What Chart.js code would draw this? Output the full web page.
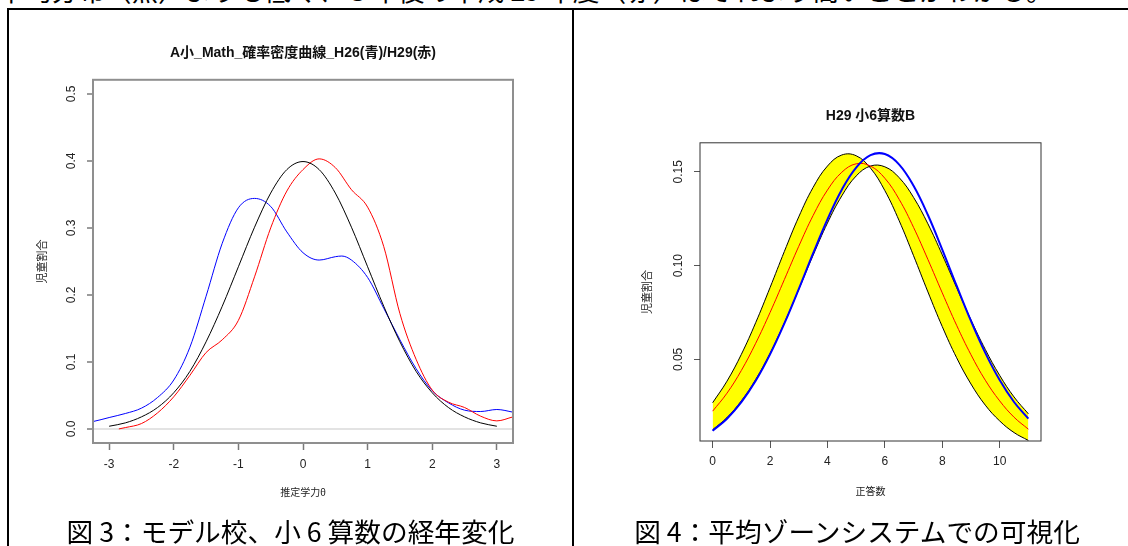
<!DOCTYPE html>
<html lang="ja">
<head>
<meta charset="utf-8">
<script src="https://cdn.jsdelivr.net/npm/chart.js@4.4.1/dist/chart.umd.min.js"></script>
<style>
  html, body { margin: 0; padding: 0; background: #fff; }
  body { width: 1128px; height: 546px; position: relative; overflow: hidden; font-family: "Noto Sans CJK JP", sans-serif; color: #000; }
  .lead { position: absolute; left: -2px; top: -26px; font-size: 26.7px; line-height: 32px; white-space: nowrap; }
  .rule-top { position: absolute; left: 7px; top: 8px; width: 1121px; height: 2px; background: #000; }
  .rule-v { position: absolute; top: 8px; width: 2px; height: 538px; background: #000; }
  .cap { position: absolute; top: 513px; font-size: 26.7px; line-height: 36px; text-align: center; white-space: nowrap; }
  #wrapL { position: absolute; left: 0; top: 0; }
  #wrapR { position: absolute; left: 574px; top: 0; }
</style>
</head>
<body>
<div class="lead">平均分布（黒）よりも低く、３年後の平成 29 年度（赤）はそれより高いことがわかる。</div>
<div class="rule-top"></div>
<div class="rule-v" style="left:7px"></div>
<div class="rule-v" style="left:572px"></div>
<div id="wrapL"><canvas id="leftChart" width="570" height="515"></canvas></div>
<div id="wrapR"><canvas id="rightChart" width="554" height="515"></canvas></div>
<div class="cap" style="left:9px;width:563px">図 3：モデル校、小 6 算数の経年変化</div>
<div class="cap" style="left:574px;width:566px">図 4：平均ゾーンシステムでの可視化</div>

<script>
// ---- left chart: density curves (theta vs share of pupils) ----
const leftXTicks = [-3, -2, -1, 0, 1, 2, 3];
const leftXLabels = ['-3', '-2', '-1', '0', '1', '2', '3'];
const leftYTicks = [0, 0.1, 0.2, 0.3, 0.4, 0.5];
const leftYLabels = ['0.0', '0.1', '0.2', '0.3', '0.4', '0.5'];

// black: reference curve
const blackTheta = [-3, -2.75, -2.5, -2.25, -2, -1.75, -1.5, -1.25, -1, -0.75, -0.5, -0.25, 0,
  0.25, 0.5, 0.75, 1, 1.25, 1.5, 1.75, 2, 2.25, 2.5, 2.75, 3];
const blackDensity = [0.004, 0.009, 0.018, 0.032, 0.054, 0.086, 0.130, 0.183, 0.242, 0.301, 0.352, 0.387, 0.399,
  0.387, 0.352, 0.301, 0.242, 0.183, 0.130, 0.086, 0.054, 0.032, 0.018, 0.009, 0.004];

// blue: H26
const blueTheta = [-3.5, -3.25, -3, -2.75, -2.5, -2.25, -2, -1.75, -1.5, -1.25, -1, -0.75, -0.5, -0.25, 0,
  0.25, 0.5, 0.6, 0.75, 1, 1.25, 1.5, 1.75, 2, 2.25, 2.5, 2.75, 3, 3.25, 3.5];
const blueDensity = [0.007, 0.011, 0.017, 0.023, 0.031, 0.047, 0.073, 0.122, 0.198, 0.277, 0.330, 0.344, 0.332, 0.294, 0.263,
  0.252, 0.257, 0.258, 0.252, 0.226, 0.180, 0.133, 0.090, 0.057, 0.039, 0.028, 0.026, 0.029, 0.025, 0.020];

// red: H29
const redTheta = [-2.85, -2.75, -2.5, -2.25, -2, -1.75, -1.5, -1.25, -1, -0.75, -0.5, -0.25, 0,
  0.25, 0.5, 0.75, 1, 1.25, 1.5, 1.75, 2, 2.25, 2.5, 2.75, 3, 3.25, 3.5];
const redDensity = [0.000, 0.002, 0.008, 0.024, 0.048, 0.080, 0.114, 0.133, 0.162, 0.227, 0.300, 0.355, 0.387,
  0.403, 0.390, 0.357, 0.331, 0.272, 0.172, 0.104, 0.058, 0.040, 0.032, 0.019, 0.012, 0.018, 0.024];

// ---- right chart: average zone (number correct vs share of pupils) ----
const rightXTicks = [0, 2, 4, 6, 8, 10];
const rightXLabels = ['0', '2', '4', '6', '8', '10'];
const rightYTicks = [0.05, 0.10, 0.15];
const rightYLabels = ['0.05', '0.10', '0.15'];

const scores = [0, 0.5, 1, 1.5, 2, 2.5, 3, 3.5, 4, 4.5, 5, 5.5, 6, 6.5, 7, 7.5, 8, 8.5, 9, 9.5, 10, 10.5, 11];
// zone edge shifted left
const zoneLow = [0.0269, 0.0384, 0.0527, 0.0696, 0.0883, 0.1076, 0.1260, 0.1417, 0.1531, 0.1590, 0.1586, 0.1520,
  0.1400, 0.1239, 0.1053, 0.0860, 0.0675, 0.0509, 0.0369, 0.0256, 0.0172, 0.0110, 0.0068];
// zone edge shifted right
const zoneHigh = [0.0125, 0.0190, 0.0279, 0.0393, 0.0533, 0.0695, 0.0873, 0.1055, 0.1227, 0.1372, 0.1478, 0.1531,
  0.1527, 0.1469, 0.1364, 0.1223, 0.1058, 0.0883, 0.0711, 0.0553, 0.0415, 0.0300, 0.0210];
// zone average (red)
const zoneMean = [0.0224, 0.0320, 0.0441, 0.0586, 0.0750, 0.0926, 0.1103, 0.1267, 0.1403, 0.1498, 0.1543, 0.1531,
  0.1466, 0.1353, 0.1204, 0.1033, 0.0855, 0.0682, 0.0525, 0.0389, 0.0279, 0.0192, 0.0128];
// school result (blue)
const school = [0.0120, 0.0184, 0.0272, 0.0386, 0.0527, 0.0692, 0.0875, 0.1065, 0.1247, 0.1405, 0.1523, 0.1589,
  0.1595, 0.1539, 0.1426, 0.1270, 0.1086, 0.0893, 0.0705, 0.0535, 0.0390, 0.0273, 0.0184];

const FONT = '"Liberation Sans", Arial, "Noto Sans CJK JP", sans-serif';
const pts = (xs, ys) => xs.map((x, i) => ({ x: x, y: ys[i] }));

// box around the plot region, like R's box()
const framePlugin = {
    id: 'frame',
    afterDatasetsDraw(chart, args, opts) {
        const { left, top, width, height } = chart.chartArea;
        const ctx = chart.ctx;
        ctx.save();
        ctx.strokeStyle = opts.color;
        ctx.lineWidth = opts.width;
        ctx.strokeRect(left, top, width, height);
        ctx.restore();
    }
};

// R draws the y tick labels turned 90 degrees
const rotatedYTicks = {
    id: 'rotatedYTicks',
    afterDraw(chart, args, opts) {
        const scale = chart.scales.y;
        const ctx = chart.ctx;
        ctx.save();
        ctx.font = opts.font;
        ctx.fillStyle = opts.color;
        ctx.textAlign = 'center';
        ctx.textBaseline = 'middle';
        scale.ticks.forEach((t, i) => {
            ctx.save();
            ctx.translate(chart.chartArea.left - opts.offset, scale.getPixelForValue(t.value));
            ctx.rotate(-Math.PI / 2);
            ctx.fillText(opts.labels[i], 0, 0);
            ctx.restore();
        });
        ctx.restore();
    }
};

function lineSet(data, color, width, extra) {
    return Object.assign({
        data: data,
        borderColor: color,
        borderWidth: width,
        pointRadius: 0,
        fill: false,
        tension: 0.4,
        cubicInterpolationMode: 'monotone',
        clip: 0
    }, extra || {});
}

const smooth = { cubicInterpolationMode: 'default', tension: 0.4 };

new Chart(document.getElementById('leftChart'), {
    type: 'line',
    data: {
        datasets: [
            lineSet(pts(blackTheta, blackDensity), '#000000', 1),
            lineSet(pts(redTheta, redDensity), '#ff0000', 1),
            lineSet(pts(blueTheta, blueDensity), '#0000ff', 1)
        ]
    },
    options: {
        responsive: false,
        animation: false,
        layout: { padding: { left: 30, right: 57, top: 45, bottom: 12 } },
        scales: {
            x: {
                type: 'linear', min: -3.25, max: 3.25,
                afterBuildTicks: s => { s.ticks = leftXTicks.map(v => ({ value: v })); },
                afterFit: s => { s.height = 60; },
                ticks: { color: '#222', font: { family: FONT, size: 12 }, padding: 7, maxRotation: 0,
                    callback: (v, i) => leftXLabels[i] },
                grid: { drawOnChartArea: false, tickLength: 7, tickColor: '#7a7a7a', tickWidth: 1.5 },
                border: { display: false },
                title: { display: true, text: '推定学力θ', color: '#222', font: { family: FONT, size: 10 }, padding: { bottom: 4 } }
            },
            y: {
                type: 'linear', min: -0.021, max: 0.521,
                afterBuildTicks: s => { s.ticks = leftYTicks.map(v => ({ value: v })); },
                afterFit: s => { s.width = 63; },
                ticks: { display: false },
                grid: {
                    color: c => (c.tick && c.tick.value === 0 ? '#e3e3e3' : 'rgba(0,0,0,0)'),
                    lineWidth: 2, tickLength: 6, tickColor: '#7a7a7a', tickWidth: 1.5
                },
                border: { display: false },
                title: { display: true, text: '児童割合', color: '#222', font: { family: FONT, size: 11 }, padding: { top: 6 } }
            }
        },
        plugins: {
            legend: { display: false },
            tooltip: { enabled: false },
            title: {
                display: true, fullSize: false,
                text: 'A小_Math_確率密度曲線_H26(青)/H29(赤)',
                color: '#111', font: { family: FONT, size: 14, weight: 'bold' },
                padding: { top: 0, bottom: 18 }
            },
            frame: { color: '#8f8f8f', width: 2 },
            rotatedYTicks: { labels: leftYLabels, offset: 21, font: '12px ' + FONT, color: '#222' }
        }
    },
    plugins: [framePlugin, rotatedYTicks]
});

new Chart(document.getElementById('rightChart'), {
    type: 'line',
    data: {
        datasets: [
            lineSet(pts(scores, school), '#0000ff', 2, Object.assign({ order: 0 }, smooth)),
            lineSet(pts(scores, zoneMean), '#ff0000', 1, Object.assign({ order: 1 }, smooth)),
            lineSet(pts(scores, zoneLow), '#000000', 1, Object.assign({ order: 2, fill: { target: 3 }, backgroundColor: '#ffff00' }, smooth)),
            lineSet(pts(scores, zoneHigh), '#000000', 1, Object.assign({ order: 3 }, smooth))
        ]
    },
    options: {
        responsive: false,
        animation: false,
        layout: { padding: { left: 63, right: 87, top: 108, bottom: 13 } },
        scales: {
            x: {
                type: 'linear', min: -0.44, max: 11.44,
                afterBuildTicks: s => { s.ticks = rightXTicks.map(v => ({ value: v })); },
                afterFit: s => { s.height = 61; },
                ticks: { color: '#222', font: { family: FONT, size: 12 }, padding: 6, maxRotation: 0,
                    callback: (v, i) => rightXLabels[i] },
                grid: { drawOnChartArea: false, tickLength: 7, tickColor: '#555', tickWidth: 1 },
                border: { display: false },
                title: { display: true, text: '正答数', color: '#222', font: { family: FONT, size: 10 }, padding: { bottom: 4 } }
            },
            y: {
                type: 'linear', min: 0.0065, max: 0.1655,
                afterBuildTicks: s => { s.ticks = rightYTicks.map(v => ({ value: v })); },
                afterFit: s => { s.width = 63; },
                ticks: { display: false },
                grid: { drawOnChartArea: false, tickLength: 6, tickColor: '#555', tickWidth: 1 },
                border: { display: false },
                title: { display: true, text: '児童割合', color: '#222', font: { family: FONT, size: 11 }, padding: { top: 4 } }
            }
        },
        plugins: {
            legend: { display: false },
            tooltip: { enabled: false },
            filler: { drawTime: 'beforeDatasetsDraw' },
            title: {
                display: true, fullSize: false,
                text: 'H29 小6算数B',
                color: '#111', font: { family: FONT, size: 14, weight: 'bold' },
                padding: { top: 0, bottom: 18 }
            },
            frame: { color: '#333', width: 1 },
            rotatedYTicks: { labels: rightYLabels, offset: 21, font: '12px ' + FONT, color: '#222' }
        }
    },
    plugins: [framePlugin, rotatedYTicks]
});
</script>
</body>
</html>
